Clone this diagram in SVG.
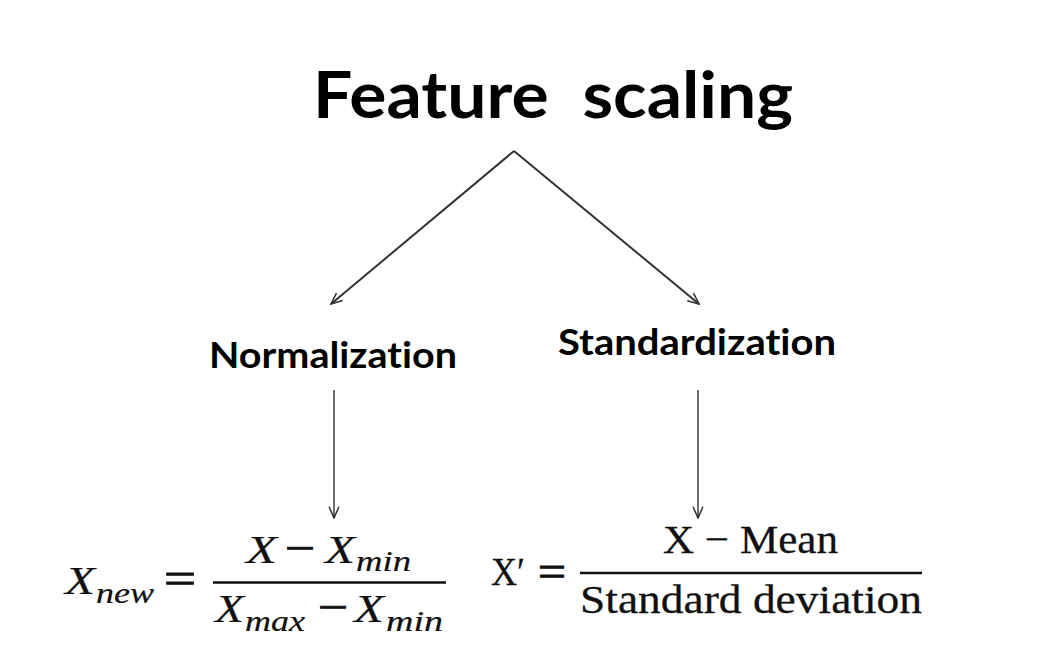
<svg xmlns="http://www.w3.org/2000/svg" width="1051" height="669" viewBox="0 0 1051 669">
<defs>
<style>
.title{font-family:Lato,"Open Sans",sans-serif;font-weight:700;fill:#000;font-variant-ligatures:none}
.label{font-family:Lato,"Open Sans",sans-serif;font-weight:700;fill:#000;font-variant-ligatures:none}
.mi{font-family:"Liberation Serif","DejaVu Serif",serif;font-style:italic;fill:#111;stroke:#111;stroke-width:0.2}
.mr{font-family:"Liberation Serif","DejaVu Serif",serif;fill:#111;stroke:#111;stroke-width:0.3}
.op{stroke-width:1}
.conn{stroke:#333;fill:none}
</style>
<marker id="arr" viewBox="0 0 20 20" refX="18" refY="10" markerWidth="14" markerHeight="14" markerUnits="userSpaceOnUse" orient="auto">
<path d="M2,3 L18,10 L2,17" fill="none" stroke="#333" stroke-width="2.2"/>
</marker>
</defs>
<rect width="1051" height="669" fill="#fff"/>

<g id="title">
<text class="title" x="313" y="118" font-size="65" textLength="480" lengthAdjust="spacingAndGlyphs" xml:space="preserve">Feature  scaling</text>
</g>

<g id="normalization">
<text class="label" x="209" y="368" font-size="36" textLength="248" lengthAdjust="spacingAndGlyphs">Normalization</text>
</g>

<g id="standardization">
<text class="label" x="558" y="355" font-size="36" textLength="278" lengthAdjust="spacingAndGlyphs">Standardization</text>
</g>

<g id="connectors">
<line class="conn" x1="514" y1="151" x2="331" y2="304" stroke-width="2" marker-end="url(#arr)"/>
<line class="conn" x1="514" y1="151" x2="699" y2="304" stroke-width="2" marker-end="url(#arr)"/>
<line class="conn" x1="334" y1="390" x2="334" y2="518" stroke-width="1.4" marker-end="url(#arr)"/>
<line class="conn" x1="698" y1="390" x2="698" y2="518" stroke-width="1.4" marker-end="url(#arr)"/>
</g>

<g id="formula-normalization">
<text class="mi" x="65" y="594" font-size="41" textLength="30" lengthAdjust="spacingAndGlyphs">X</text>
<text class="mi" x="96" y="603" font-size="29" textLength="58" lengthAdjust="spacingAndGlyphs">new</text>
<text class="mr op" x="164" y="593" font-size="44" textLength="32" lengthAdjust="spacingAndGlyphs">=</text>
<text class="mi" x="246" y="563" font-size="41" textLength="31" lengthAdjust="spacingAndGlyphs">X</text>
<text class="mr op" x="285" y="562" font-size="41" textLength="30" lengthAdjust="spacingAndGlyphs">−</text>
<text class="mi" x="325" y="563" font-size="41" textLength="30" lengthAdjust="spacingAndGlyphs">X</text>
<text class="mi" x="356" y="571" font-size="29" textLength="55" lengthAdjust="spacingAndGlyphs">min</text>
<line x1="213" y1="582.5" x2="446" y2="582.5" stroke="#111" stroke-width="2.4"/>
<text class="mi" x="215" y="622" font-size="41" textLength="29" lengthAdjust="spacingAndGlyphs">X</text>
<text class="mi" x="245" y="631" font-size="29" textLength="60" lengthAdjust="spacingAndGlyphs">max</text>
<text class="mr op" x="318" y="621" font-size="41" textLength="30" lengthAdjust="spacingAndGlyphs">−</text>
<text class="mi" x="354" y="622" font-size="41" textLength="30" lengthAdjust="spacingAndGlyphs">X</text>
<text class="mi" x="386" y="631" font-size="29" textLength="57" lengthAdjust="spacingAndGlyphs">min</text>
</g>

<g id="formula-standardization">
<text class="mr" x="491" y="585" font-size="41" textLength="34" lengthAdjust="spacingAndGlyphs">X′</text>
<text class="mr op" x="538" y="586" font-size="44" textLength="28" lengthAdjust="spacingAndGlyphs">=</text>
<text class="mr" x="663" y="553" font-size="41" textLength="175" lengthAdjust="spacingAndGlyphs">X − Mean</text>
<line x1="580" y1="573" x2="922" y2="573" stroke="#111" stroke-width="2.6"/>
<text class="mr" x="580" y="613" font-size="41" textLength="342" lengthAdjust="spacingAndGlyphs">Standard deviation</text>
</g>
</svg>
